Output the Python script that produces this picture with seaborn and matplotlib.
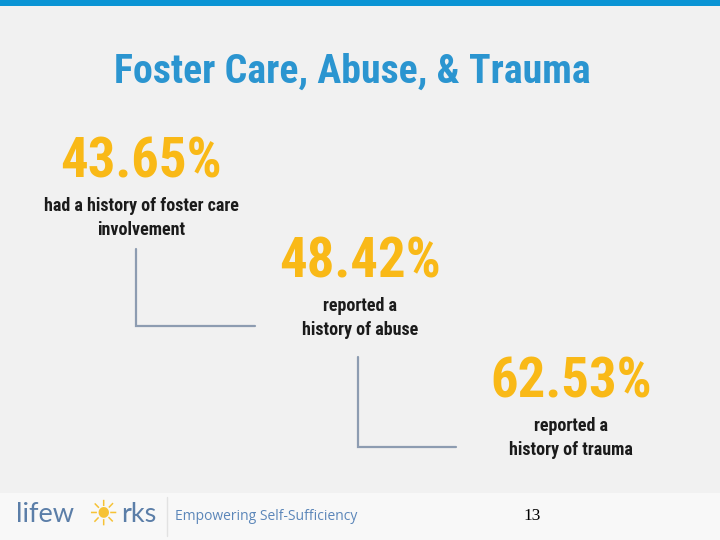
"""Foster care, abuse and trauma infographic slide."""

import matplotlib

matplotlib.use("Agg")
import matplotlib.pyplot as plt
from matplotlib import font_manager
import seaborn as sns

TITLE = "Foster Care, Abuse, & Trauma"
PERCENTAGES = [43.65, 48.42, 62.53]
DESCRIPTIONS = [
    "had a history of foster care\ninvolvement",
    "reported a\nhistory of abuse",
    "reported a\nhistory of trauma",
]
TAGLINE = "Empowering Self-Sufficiency"
PAGE_NUMBER = "13"

# layout (pixel coordinates, y grows downwards)
STAT_CENTERS = [(141, 163), (360, 263), (571, 383)]
STAT_WIDTH = 162
LABEL_CENTERS = [(141, 218), (360, 318), (571, 438)]
LABEL_WIDTHS = [194, 116, 124]
CONNECTORS = [
    ([136, 136, 255], [249, 326, 326]),
    ([358, 358, 456], [357, 447, 447]),
]

BG = "#f1f1f1"
BLUE = "#2b95d0"
YELLOW = "#f9b917"
LINE = "#8d9cb1"

available = {f.name for f in font_manager.fontManager.ttflist}
candidates = ["Roboto Condensed", "Liberation Sans Narrow", "Arial Narrow",
              "Open Sans Condensed", "Roboto"]
NARROW = [c for c in candidates if c in available][:1] + ["DejaVu Sans"]

sns.set_theme(style="white")
plt.rcParams["font.family"] = NARROW

fig = plt.figure(figsize=(7.2, 5.4), dpi=100, facecolor=BG)
ax = fig.add_axes([0, 0, 1, 1])
ax.set_facecolor(BG)
ax.set_xlim(0, 720)
ax.set_ylim(540, 0)
ax.axis("off")
renderer = fig.canvas.get_renderer()


def fit_text(x, y, s, width, size, **kw):
    """Place text and shrink/grow it so it spans the given pixel width."""
    t = ax.text(x, y, s, fontsize=size, ha="center", va="center", **kw)
    measured = t.get_window_extent(renderer).width
    t.set_fontsize(size * width / measured)
    return t


# top bar and footer band
ax.axhspan(0, 6, color="#0a94d4", lw=0)
ax.axhspan(493, 540, color="#f8f8f8", lw=0)
ax.plot([167, 167], [497, 536], color="#e2e2e2", lw=1)

fit_text(352, 72, TITLE, 476, 29, color=BLUE, fontweight="bold")

for value, (cx, cy) in zip(PERCENTAGES, STAT_CENTERS):
    fit_text(cx, cy, f"{value:.2f}%", STAT_WIDTH, 41, color=YELLOW,
             fontweight="bold")

for desc, (cx, cy), w in zip(DESCRIPTIONS, LABEL_CENTERS, LABEL_WIDTHS):
    fit_text(cx, cy, desc, w, 13, color="#1b1b1b", fontweight="bold",
             linespacing=1.45)

for xs, ys in CONNECTORS:
    ax.plot(xs, ys, color=LINE, lw=1.6, solid_joinstyle="miter")

# footer logo and text
ax.text(16, 515, "lifew", color="#5b7ea8", fontsize=19.5, ha="left",
        va="center", family=["Lato", "DejaVu Sans"])
ax.text(103, 515, "\u2600", color="#f6c235", fontsize=25, ha="center",
        va="center", family="DejaVu Sans")
ax.text(121, 515, "rks", color="#5b7ea8", fontsize=19.5, ha="left",
        va="center", family=["Lato", "DejaVu Sans"])
ax.text(175, 517, TAGLINE, color="#5b86b9", fontsize=10, ha="left",
        va="center", family=["Open Sans", "DejaVu Sans"])
ax.text(532, 516, PAGE_NUMBER, color="black", fontsize=12.5, ha="center",
        va="center", family=["Liberation Serif", "DejaVu Serif"])

fig.savefig("out.png", dpi=100, facecolor=BG)
plt.close(fig)
